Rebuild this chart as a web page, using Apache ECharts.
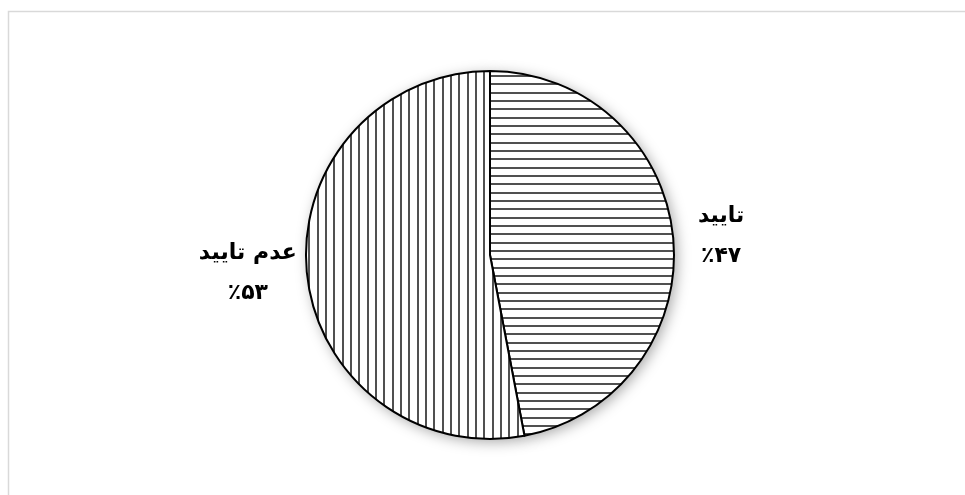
<!DOCTYPE html>
<html>
<head>
<meta charset="utf-8">
<script src="https://cdn.jsdelivr.net/npm/echarts@6/dist/echarts.min.js"></script>
<style>
  html, body { margin: 0; padding: 0; background: #ffffff; }
  #chart { width: 965px; height: 495px; }
</style>
</head>
<body>
<div id="chart"></div>
<script>
// Survey answers, in percent
const categories = ['تایید', 'عدم تایید'];
const values = [47, 53];
const valueLabels = ['٪۴۷', '٪۵۳'];

// Hatch fills: a 25px tile holding three 2px strokes (≈8.3px pitch)
function hatch(vertical) {
  const size = 25;
  const c = document.createElement('canvas');
  c.width = size; c.height = size;
  const g = c.getContext('2d');
  g.fillStyle = '#ffffff';
  g.fillRect(0, 0, size, size);
  g.fillStyle = '#505050';
  [0, 8, 17].forEach(function (p) {
    if (vertical) g.fillRect(p, 0, 2, size);
    else g.fillRect(0, p, size, 2);
  });
  return { image: c, repeat: 'repeat' };
}
const fills = [hatch(false), hatch(true)];

const pieData = categories.map(function (name, i) {
  return { name: name, value: values[i], pct: valueLabels[i], itemStyle: { color: fills[i] } };
});
const shadowData = categories.map(function (name, i) {
  return { name: name, value: values[i] };
});

// label text style; box widths differ per side so each block sits centred
const txt = { fontFamily: 'DejaVu Sans', fontWeight: 'bold', fontSize: 22, color: '#000', align: 'center', lineHeight: 40 };
const rich = {
  n0: Object.assign({ width: 62 }, txt),
  v0: Object.assign({ width: 62 }, txt),
  n1: Object.assign({ width: 84 }, txt),
  v1: Object.assign({ width: 84 }, txt)
};

const chart = echarts.init(document.getElementById('chart'), null, { renderer: 'canvas' });
chart.setOption({
  animation: false,
  backgroundColor: '#ffffff',
  graphic: [{
    type: 'rect',
    silent: true,
    shape: { x: 8.5, y: 11.5, width: 1000, height: 520 },
    style: { fill: 'none', stroke: '#d9d9d9', lineWidth: 1.5 }
  }],
  series: [
    {
      // soft drop shadow underneath the disc
      type: 'pie',
      silent: true,
      center: [490, 255],
      radius: 184,
      startAngle: 90,
      clockwise: true,
      label: { show: false },
      labelLine: { show: false },
      itemStyle: {
        color: '#ffffff',
        borderWidth: 0,
        shadowBlur: 14,
        shadowColor: 'rgba(0,0,0,0.35)',
        shadowOffsetX: 3,
        shadowOffsetY: 3
      },
      data: shadowData,
      z: 1
    },
    {
      type: 'pie',
      center: [490, 255],
      radius: 184,
      startAngle: 90,
      clockwise: true,
      itemStyle: { borderColor: '#000000', borderWidth: 2 },
      label: {
        show: true,
        position: 'outside',
        formatter: function (p) {
          const k = p.dataIndex;
          return '{n' + k + '|' + p.name + '}\n{v' + k + '|' + p.data.pct + '}';
        },
        rich: rich
      },
      labelLine: { show: false, length: 12, length2: 0 },
      emphasis: { disabled: true },
      data: pieData,
      z: 2
    }
  ]
});
</script>
</body>
</html>
